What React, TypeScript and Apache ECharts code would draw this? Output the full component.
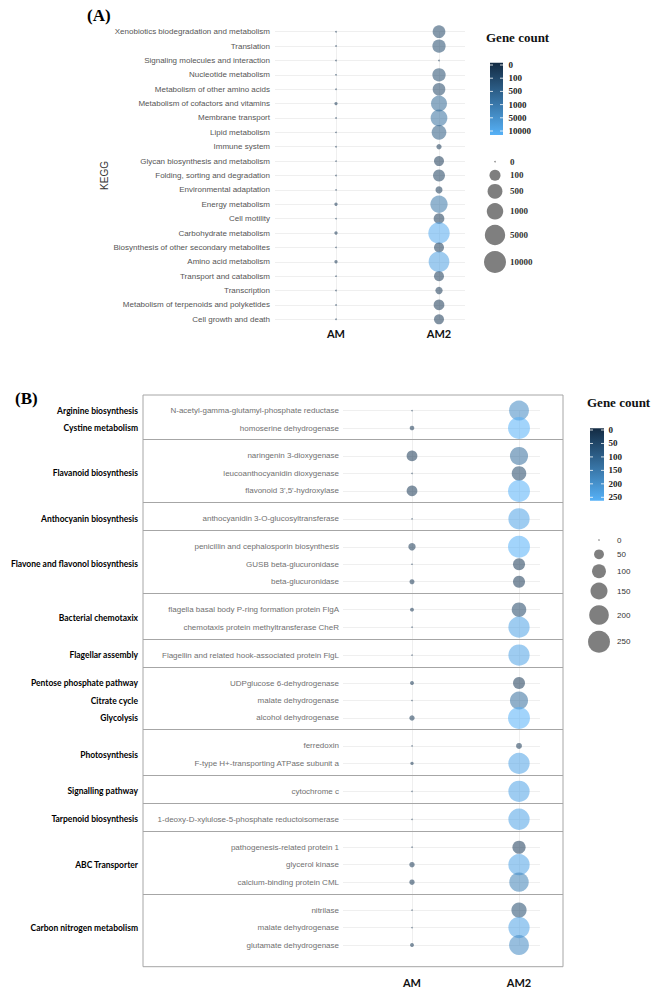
import React, { useEffect, useRef } from "react";
import * as echarts from "echarts";

// ---------- Panel A data ----------
const keggCategories = [
  "Xenobiotics biodegradation and metabolism",
  "Translation",
  "Signaling molecules and interaction",
  "Nucleotide metabolism",
  "Metabolism of other amino acids",
  "Metabolism of cofactors and vitamins",
  "Membrane transport",
  "Lipid metabolism",
  "Immune system",
  "Glycan biosynthesis and metabolism",
  "Folding, sorting and degradation",
  "Environmental adaptation",
  "Energy metabolism",
  "Cell motility",
  "Carbohydrate metabolism",
  "Biosynthesis of other secondary metabolites",
  "Amino acid metabolism",
  "Transport and catabolism",
  "Transcription",
  "Metabolism of terpenoids and polyketides",
  "Cell growth and death",
];
const keggAM = [2, 2, 2, 2, 2, 4, 2, 2, 2, 2, 2, 2, 4, 2, 4, 2, 4, 2, 2, 2, 2];
const keggAM2 = [200, 260, 2, 260, 200, 800, 1100, 470, 9, 66, 150, 19, 1400, 88, 8000, 66, 6000, 66, 21, 88, 66];
const sampleNames = ["AM", "AM2"];
const legendTicksA = [0, 100, 500, 1000, 5000, 10000];

// ---------- Panel B data ----------
const enzymeGroups = [
  ["N-acetyl-gamma-glutamyl-phosphate reductase", "homoserine dehydrogenase"],
  ["naringenin 3-dioxygenase", "leucoanthocyanidin dioxygenase", "flavonoid 3',5'-hydroxylase"],
  ["anthocyanidin 3-O-glucosyltransferase"],
  ["penicillin and cephalosporin biosynthesis", "GUSB beta-glucuronidase", "beta-glucuronidase"],
  ["flagella basal body P-ring formation protein FlgA", "chemotaxis protein methyltransferase CheR"],
  ["Flagellin and related hook-associated protein FlgL"],
  ["UDPglucose 6-dehydrogenase", "malate dehydrogenase", "alcohol dehydrogenase"],
  ["ferredoxin", "F-type H+-transporting ATPase subunit a"],
  ["cytochrome c"],
  ["1-deoxy-D-xylulose-5-phosphate reductoisomerase"],
  ["pathogenesis-related protein 1", "glycerol kinase", "calcium-binding protein CML"],
  ["nitrilase", "malate dehydrogenase", "glutamate dehydrogenase"],
];
const enzymeAM = [1, 11, 60, 1, 60, 1, 28, 1, 13, 8, 1, 1, 8, 1, 15, 1, 6, 1, 1, 1, 15, 15, 1, 1, 8];
const enzymeAM2 = [205, 250, 170, 110, 250, 235, 250, 75, 75, 110, 235, 235, 75, 170, 250, 18, 235, 235, 235, 90, 235, 195, 120, 235, 205];
const pathwayNames = [
  "Arginine biosynthesis",
  "Cystine metabolism",
  "Flavanoid biosynthesis",
  "Anthocyanin biosynthesis",
  "Flavone and flavonol biosynthesis",
  "Bacterial chemotaxix",
  "Flagellar assembly",
  "Pentose phosphate pathway",
  "Citrate cycle",
  "Glycolysis",
  "Photosynthesis",
  "Signalling pathway",
  "Tarpenoid biosynthesis",
  "ABC Transporter",
  "Carbon nitrogen metabolism",
];
const pathwayFirstRow = [0, 1, 2, 5, 6, 9, 11, 12, 13, 14, 15, 17, 18, 19, 22];
const pathwayLastRow = [0, 1, 4, 5, 8, 10, 11, 12, 13, 14, 16, 17, 18, 21, 24];
const legendTicksB = [0, 50, 100, 150, 200, 250];

// ---------- scales ----------
const NAVY = "#132B43";
const LIGHT = "#56B1F7";
const clamp01 = (t: number) => Math.max(0, Math.min(1, t));
const sizeA = (v: number) => Math.max(1.5, 5.5 * Math.log10(Math.max(v, 1)));
const sizeB = (v: number) => Math.max(1.5, 1.39 * Math.sqrt(Math.max(v, 0)));
const colorA = (v: number) =>
  echarts.color.lerp(0.1 + 0.9 * Math.pow(clamp01((Math.log10(Math.max(v, 1)) - 2) / 2), 1.2), [NAVY, LIGHT]);
const colorB = (v: number) => echarts.color.lerp(0.1 + 0.9 * Math.pow(clamp01((v - 80) / 170), 1.3), [NAVY, LIGHT]);

// ---------- layout ----------
const GAP = 0.6;
const rowPos: number[] = [];
const rowNames: string[] = [];
const groupLast: number[] = [];
{
  let r = 0;
  enzymeGroups.forEach((g, gi) => {
    g.forEach((name) => {
      rowPos.push(r + gi * GAP);
      rowNames.push(name);
      r++;
    });
    groupLast.push(rowPos[rowPos.length - 1]);
  });
}
const pathPos = pathwayNames.map((_, i) => (rowPos[pathwayFirstRow[i]] + rowPos[pathwayLastRow[i]]) / 2);
const keyOf = (v: number) => Number(v).toFixed(3);
const rowLabelMap = new Map<string, string>(rowPos.map((p, i) => [keyOf(p), rowNames[i]]));
const pathLabelMap = new Map<string, string>(pathPos.map((p, i) => [keyOf(p), pathwayNames[i]]));
const B_MIN = -0.89;
const B_MAX = rowPos[rowPos.length - 1] + 1.24;

const A_LEFT = 275, A_RIGHT = 465, A_TOP = 24.5, A_H = 302;
const A_X0 = 336, A_X1 = 439;
const B_LEFT = 143, B_RIGHT = 563, B_TOP = 395, B_BOTTOM = 966.7;
const B_X0 = 412, B_X1 = 519;
const B_LINE_L = 343, B_LINE_R = 540;

const aXmin = -(A_X0 - A_LEFT) / (A_X1 - A_X0);
const aXmax = 1 + (A_RIGHT - A_X1) / (A_X1 - A_X0);
const bUnit = B_X1 - B_X0;
const bXmin = -(B_X0 - B_LEFT) / bUnit;
const bXmax = 1 + (B_RIGHT - B_X1) / bUnit;
const bLineL = -(B_X0 - B_LINE_L) / bUnit;
const bLineR = 1 + (B_LINE_R - B_X1) / bUnit;

const SANS = '"Liberation Sans", Arial, sans-serif';
const SERIF = '"Liberation Serif", "Times New Roman", serif';
const BOLDSANS = 'Lato, "Liberation Sans", sans-serif';

function txt(text: string, x: number, y: number, font: string, fill: string, align = "left") {
  return {
    type: "text",
    silent: true,
    style: { text, x, y, font, fill, align, verticalAlign: "middle", textAlign: align, textVerticalAlign: "middle" },
  };
}

function legendGraphics(
  ticks: number[],
  sizeFn: (v: number) => number,
  title: [number, number],
  bar: { x: number; y: number; w: number; h: number },
  barLabelX: number,
  barLabelY0: number,
  barLabelY1: number,
  sizeCx: number,
  sizeLabelX: number,
  sizeYs: number[],
  sizeFont: string
) {
  const els: any[] = [];
  els.push(txt("Gene count", title[0], title[1], `bold 13px ${SERIF}`, "#111"));
  els.push({
    type: "rect",
    silent: true,
    shape: { x: bar.x, y: bar.y, width: bar.w, height: bar.h },
    style: {
      fill: new echarts.graphic.LinearGradient(0, 0, 0, 1, [
        { offset: 0, color: NAVY },
        { offset: 1, color: LIGHT },
      ]),
    },
  });
  const n = ticks.length;
  ticks.forEach((t, i) => {
    const y = barLabelY0 + ((barLabelY1 - barLabelY0) * i) / (n - 1);
    els.push({ type: "line", silent: true, shape: { x1: bar.x, y1: y, x2: bar.x + 3, y2: y }, style: { stroke: "#fff", lineWidth: 0.8 } });
    els.push({ type: "line", silent: true, shape: { x1: bar.x + bar.w - 3, y1: y, x2: bar.x + bar.w, y2: y }, style: { stroke: "#fff", lineWidth: 0.8 } });
    els.push(txt(String(t), barLabelX, y, `bold 9px ${SERIF}`, "#222"));
  });
  ticks.forEach((t, i) => {
    els.push({
      type: "circle",
      silent: true,
      shape: { cx: sizeCx, cy: sizeYs[i], r: sizeFn(t) / 2 },
      style: { fill: "rgba(0,0,0,0.5)" },
    });
    els.push(txt(String(t), sizeLabelX, sizeYs[i], sizeFont, "#333"));
  });
  return els;
}

export default function App() {
  const ref = useRef<HTMLDivElement>(null);
  useEffect(() => {
    if (!ref.current) return;
    const chart = echarts.init(ref.current, undefined, { renderer: "svg" });

    const aData: any[] = [];
    keggCategories.forEach((c, i) => {
      aData.push([0, i, keggAM[i]]);
      aData.push([1, i, keggAM2[i]]);
    });
    const bData: any[] = [];
    rowPos.forEach((p, i) => {
      bData.push([0, p, enzymeAM[i]]);
      bData.push([1, p, enzymeAM2[i]]);
    });

    const gridLine = { color: "#ebebeb", width: 0.8, type: "solid" };
    const markBase = { symbol: "none", silent: true, label: { show: false }, animation: false, z: 1 };

    const option: any = {
      animation: false,
      backgroundColor: "#ffffff",
      grid: [
        { left: A_LEFT, top: A_TOP, width: A_RIGHT - A_LEFT, height: A_H },
        {
          left: B_LEFT,
          top: B_TOP,
          width: B_RIGHT - B_LEFT,
          height: B_BOTTOM - B_TOP,
          show: true,
          borderColor: "#a6a6a6",
          borderWidth: 1,
          backgroundColor: "transparent",
        },
      ],
      xAxis: [
        {
          type: "value",
          gridIndex: 0,
          min: aXmin,
          max: aXmax,
          axisLine: { show: false },
          axisTick: { show: false },
          splitLine: { show: false },
          axisLabel: {
            customValues: [0, 1],
            formatter: (v: number) => sampleNames[Math.round(v)] ?? "",
            margin: 1,
            fontSize: 11,
            fontWeight: "bold",
            fontFamily: BOLDSANS,
            color: "#111",
          },
        },
        {
          type: "value",
          gridIndex: 1,
          min: bXmin,
          max: bXmax,
          axisLine: { show: false },
          axisTick: { show: false },
          splitLine: { show: false },
          axisLabel: {
            customValues: [0, 1],
            formatter: (v: number) => sampleNames[Math.round(v)] ?? "",
            margin: 10,
            fontSize: 11,
            fontWeight: "bold",
            fontFamily: BOLDSANS,
            color: "#111",
          },
        },
      ],
      yAxis: [
        {
          type: "category",
          gridIndex: 0,
          data: keggCategories,
          inverse: true,
          name: "KEGG",
          nameLocation: "middle",
          nameGap: 162,
          nameRotate: 90,
          nameTextStyle: { fontSize: 10, color: "#333", fontFamily: SANS },
          axisLine: { show: false },
          axisTick: { show: false },
          splitLine: { show: false },
          axisLabel: { fontSize: 8, color: "#555", fontFamily: SANS, margin: 5 },
        },
        {
          type: "value",
          gridIndex: 1,
          min: B_MIN,
          max: B_MAX,
          inverse: true,
          position: "left",
          offset: 0,
          axisLine: { show: false },
          axisTick: { show: false },
          splitLine: { show: false },
          axisLabel: {
            inside: true,
            margin: B_LINE_L - 4 - B_LEFT,
            align: "right",
            customValues: rowPos,
            formatter: (v: number) => rowLabelMap.get(keyOf(v)) ?? "",
            fontSize: 8,
            color: "#707070",
            fontFamily: SANS,
          },
        },
        {
          type: "value",
          gridIndex: 1,
          min: B_MIN,
          max: B_MAX,
          inverse: true,
          position: "left",
          offset: 0,
          axisLine: { show: false },
          axisTick: { show: false },
          splitLine: { show: false },
          axisLabel: {
            margin: 5,
            customValues: pathPos,
            formatter: (v: number) => pathLabelMap.get(keyOf(v)) ?? "",
            fontSize: 8.5,
            fontWeight: "bold",
            color: "#000",
            fontFamily: BOLDSANS,
          },
        },
      ],
      series: [
        {
          type: "scatter",
          xAxisIndex: 0,
          yAxisIndex: 0,
          data: [],
          z: 1,
          markLine: {
            ...markBase,
            lineStyle: gridLine,
            data: [
              ...keggCategories.map((c) => ({ yAxis: c })),
              ...[0, 1].map((x) => [
                { coord: [x, keggCategories[0]] },
                { coord: [x, keggCategories[keggCategories.length - 1]] },
              ]),
            ],
          },
        },
        {
          type: "scatter",
          name: "KEGG",
          xAxisIndex: 0,
          yAxisIndex: 0,
          z: 6,
          data: aData,
          symbolSize: (d: number[]) => sizeA(d[2]),
          itemStyle: { color: (p: any) => colorA(p.data[2]), opacity: 0.55 },
        },
        {
          type: "scatter",
          xAxisIndex: 1,
          yAxisIndex: 1,
          data: [],
          z: 1,
          markLine: {
            ...markBase,
            lineStyle: gridLine,
            data: [
              ...rowPos.map((p) => [{ coord: [bLineL, p] }, { coord: [bLineR, p] }]),
              ...[0, 1].map((x) => [{ coord: [x, rowPos[0]] }, { coord: [x, rowPos[rowPos.length - 1]] }]),
            ],
          },
        },
        {
          type: "scatter",
          xAxisIndex: 1,
          yAxisIndex: 1,
          data: [],
          z: 2,
          markLine: {
            ...markBase,
            z: 2,
            lineStyle: { color: "#a6a6a6", width: 1, type: "solid" },
            data: groupLast.slice(0, -1).map((p) => ({ yAxis: p + 0.42 * (1 + GAP) })),
          },
        },
        {
          type: "scatter",
          name: "Enzymes",
          xAxisIndex: 1,
          yAxisIndex: 1,
          z: 6,
          data: bData,
          symbolSize: (d: number[]) => sizeB(d[2]),
          itemStyle: { color: (p: any) => colorB(p.data[2]), opacity: 0.55 },
        },
      ],
      graphic: [
        txt("(A)", 87, 15, `bold 17px ${SERIF}`, "#000"),
        txt("(B)", 15, 398, `bold 17px ${SERIF}`, "#000"),
        ...legendGraphics(
          legendTicksA,
          sizeA,
          [486, 37],
          { x: 490, y: 62.7, w: 13, h: 72.3 },
          508.5,
          65,
          131,
          495,
          510,
          [161.7, 175.3, 191.3, 211.3, 235, 262],
          `bold 9px ${SERIF}`
        ),
        ...legendGraphics(
          legendTicksB,
          sizeB,
          [587, 402.7],
          { x: 590, y: 428.3, w: 14, h: 72.4 },
          608.5,
          430,
          497.3,
          599,
          617,
          [540, 554.3, 571.3, 591, 615, 641.7],
          `8px ${SANS}`
        ),
      ],
    };
    chart.setOption(option);
    return () => chart.dispose();
  }, []);
  return <div ref={ref} style={{ position: "fixed", left: 0, top: 0, width: 651, height: 992 }} />;
}
